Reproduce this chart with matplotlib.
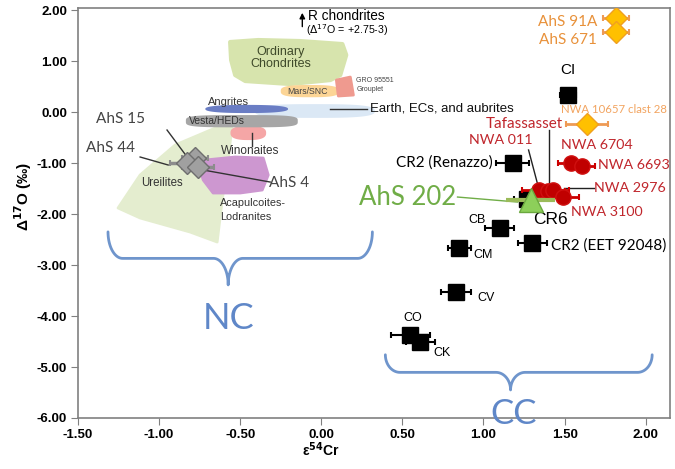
import matplotlib.pyplot as plt
import numpy as np
from matplotlib.patches import Polygon

# ---- data ----
# carbonaceous chondrite groups (black squares)
cc_x = [1.52, 1.18, 1.10, 1.30, 0.85, 0.83, 0.55, 0.61, 1.27]
cc_y = [0.33, -1.00, -2.27, -2.57, -2.67, -3.53, -4.37, -4.51, -1.70]
cc_err = [0.05, 0.10, 0.09, 0.09, 0.07, 0.09, 0.12, 0.09, 0.08]

# ungrouped achondrites, NC side (grey diamonds): AhS 15, AhS 44, AhS 4
nc_x = [-0.78, -0.83, -0.76]
nc_y = [-0.90, -1.00, -1.08]
nc_err = [0.08, 0.10, 0.10]

# orange diamonds: AhS 91A, AhS 671, NWA 10657 clast 28
or_x = [1.815, 1.815, 1.64]
or_y = [1.84, 1.57, -0.24]
or_err = [0.08, 0.08, 0.13]

# CR-like red circles: NWA 6704, NWA 6693, NWA 011, Tafassasset, NWA 2976, NWA 3100
cr_x = [1.54, 1.61, 1.34, 1.40, 1.43, 1.49]
cr_y = [-1.00, -1.06, -1.53, -1.55, -1.53, -1.67]
cr_err = [0.08, 0.08, 0.10, 0.10, 0.10, 0.10]

# AhS 202
g_x, g_y, g_err = 1.29, -1.72, 0.15

# field polygons (data coords)
oc_poly = [(-0.562, 1.373), (-0.389, 1.412), (-0.130, 1.392), (0.130, 1.333), (0.154, 1.118),
           (0.117, 0.725), (0.056, 0.627), (-0.191, 0.549), (-0.469, 0.608), (-0.531, 0.725),
           (-0.556, 1.02)]
ure_poly = [(-0.549, -0.235), (-0.654, -0.314), (-0.901, -0.647), (-1.117, -1.235),
            (-1.253, -1.882), (-1.117, -2.078), (-0.809, -2.353), (-0.642, -2.549),
            (-0.611, -1.725), (-0.574, -0.941)]
aca_poly = [(-0.716, -0.941), (-0.531, -0.882), (-0.358, -0.902), (-0.327, -1.235),
            (-0.364, -1.529), (-0.5, -1.588), (-0.667, -1.588), (-0.728, -1.333),
            (-0.747, -1.137)]
gro_poly = [(0.093, 0.627), (0.179, 0.686), (0.198, 0.333), (0.105, 0.314)]
# blobs: centre x, centre y, width, height
mars_blob = (-0.07, 0.41, 0.36, 0.24)
ang_blob = (-0.46, 0.06, 0.51, 0.16)
earth_blob = (-0.04, 0.02, 0.74, 0.27)
vesta_blob = (-0.49, -0.18, 0.69, 0.24)
win_blob = (-0.45, -0.41, 0.22, 0.28)

# braces: left x, right x, tip x, top y, tip y
nc_brace = (-1.315, 0.315, -0.574, -2.35, -3.39)
cc_brace = (0.395, 2.04, 1.167, -4.76, -5.45)

xticks = [-1.5, -1.0, -0.5, 0.0, 0.5, 1.0, 1.5, 2.0]
yticks = [-6, -5, -4, -3, -2, -1, 0, 1, 2]


def superellipse(cx, cy, w, h, n=4):
    t = np.linspace(0, 2 * np.pi, 120)
    c, s = np.cos(t), np.sin(t)
    x = cx + w / 2 * np.sign(c) * np.abs(c) ** (2 / n)
    y = cy + h / 2 * np.sign(s) * np.abs(s) ** (2 / n)
    return np.column_stack([x, y])


def brace(ax, x0, x1, xm, ytop, ybot, rx=0.09, color='#6f95cc'):
    ymid = (ytop + ybot) / 2
    ry1 = ytop - ymid
    ry2 = ymid - ybot
    pts = []
    a = np.linspace(np.pi, 1.5 * np.pi, 20)
    pts += list(zip(x0 + rx + rx * np.cos(a), ytop + ry1 * np.sin(a)))
    a = np.linspace(0.5 * np.pi, 0, 20)
    pts += list(zip(xm - rx + rx * np.cos(a), ybot + ry2 * np.sin(a)))
    a = np.linspace(np.pi, 0.5 * np.pi, 20)
    pts += list(zip(xm + rx + rx * np.cos(a), ybot + ry2 * np.sin(a)))
    a = np.linspace(1.5 * np.pi, 2 * np.pi, 20)
    pts += list(zip(x1 - rx + rx * np.cos(a), ytop + ry1 * np.sin(a)))
    pts = np.array(pts)
    ax.plot(pts[:, 0], pts[:, 1], color=color, lw=2, solid_capstyle='round', zorder=2)


fig = plt.figure(figsize=(6.75, 4.69), dpi=100)
ax = fig.add_axes([78 / 675, 51 / 469, 592 / 675, 410 / 469])
ax.set_xlim(-1.5, 2.15)
ax.set_ylim(-6, 2.04)

# fields
ax.add_patch(Polygon(ure_poly, closed=True, fc='#e4edcf', ec='#e4edcf', lw=2, joinstyle='round', zorder=1))
ax.add_patch(Polygon(aca_poly, closed=True, fc='#cd97d0', ec='#cd97d0', lw=2, joinstyle='round', zorder=1.1))
ax.add_patch(Polygon(superellipse(*win_blob, n=2.6), fc='#f5a6a6', ec='none', zorder=1.1))
ax.add_patch(Polygon(superellipse(*earth_blob, n=3), fc='#dbe8f5', ec='none', zorder=1.2))
ax.add_patch(Polygon(superellipse(*vesta_blob, n=4), fc='#a6a6a6', ec='none', zorder=1.3))
ax.add_patch(Polygon(superellipse(*ang_blob, n=2.5), fc='#6a7dc4', ec='none', zorder=1.3))
ax.add_patch(Polygon(oc_poly, closed=True, fc='#d7e4ad', ec='#d7e4ad', lw=3, joinstyle='round', zorder=1.2))
ax.add_patch(Polygon(superellipse(*mars_blob, n=3), fc='#fcd596', ec='none', zorder=1.3))
ax.add_patch(Polygon(gro_poly, closed=True, fc='#ef9a8f', ec='#ef9a8f', lw=2, joinstyle='round', zorder=1.3))

cal = 'Lato'
ar = 'Liberation Sans'
ax.text(-0.25, 1.06, 'Ordinary\nChondrites', fontsize=9, family=ar, color='#3f4a2a',
        ha='center', va='center', linespacing=1.1, zorder=3)
ax.text(-0.086, 0.40, 'Mars/SNC', fontsize=6.3, family=ar, color='#444444', ha='center', va='center', zorder=3)
ax.text(0.215, 0.62, 'GRO 95551', fontsize=5, family=ar, color='#444444', ha='left', va='center', zorder=3)
ax.text(0.215, 0.44, 'Grouplet', fontsize=5, family=ar, color='#444444', ha='left', va='center', zorder=3)
ax.text(-0.574, 0.20, 'Angrites', fontsize=8, family=ar, color='#333333', ha='center', va='center', zorder=3)
ax.text(-0.642, -0.18, 'Vesta/HEDs', fontsize=7.5, family=ar, color='#333333', ha='center', va='center', zorder=3)
ax.plot([0.056, 0.284], [0.06, 0.06], color='#333333', lw=1, zorder=3)
ax.text(0.30, 0.06, 'Earth, ECs, and aubrites', fontsize=9.5, family=ar, color='#111111', ha='left', va='center', zorder=3)
ax.plot([-0.426, -0.426], [-0.41, -0.66], color='#333333', lw=1, zorder=3)
ax.text(-0.44, -0.76, 'Winonaites', fontsize=8.5, family=ar, color='#333333', ha='center', va='center', zorder=3)
ax.text(-0.98, -1.39, 'Ureilites', fontsize=8.3, family=ar, color='#333333', ha='center', va='center', zorder=3)
ax.text(-0.623, -1.78, 'Acapulcoites-', fontsize=7.8, family=ar, color='#333333', ha='left', va='center', zorder=3)
ax.text(-0.623, -2.06, 'Lodranites', fontsize=7.8, family=ar, color='#333333', ha='left', va='center', zorder=3)

# R chondrites note
ax.annotate('', xy=(-0.117, 2.0), xytext=(-0.117, 1.62),
            arrowprops=dict(arrowstyle='-|>', color='black', lw=1, mutation_scale=8))
ax.text(-0.08, 1.88, 'R chondrites', fontsize=9.8, family=ar, ha='left', va='center')
ax.text(-0.093, 1.60, '($\\Delta^{17}$O = +2.75-3)', fontsize=7.7, family=ar, ha='left', va='center')

# braces
brace(ax, *nc_brace)
brace(ax, *cc_brace)
ax.text(nc_brace[2], -4.04, 'NC', fontsize=26, family=cal, color='#5f87c8', ha='center', va='center')
ax.text(cc_brace[2] + 0.02, -5.92, 'CC', fontsize=25, family=cal, color='#5f87c8', ha='center', va='center',
        clip_on=False, zorder=6)

# leader lines
ax.plot([-0.951, -0.827], [-0.353, -0.882], color='#333333', lw=1, zorder=3)
ax.plot([-1.117, -0.944], [-0.882, -1.039], color='#333333', lw=1, zorder=3)
ax.plot([-0.728, -0.315], [-1.137, -1.373], color='#333333', lw=1, zorder=3)
ax.plot([1.278, 1.34], [-0.745, -1.49], color='#222222', lw=1, zorder=3)
ax.plot([1.401, 1.401], [-0.35, -1.49], color='#222222', lw=1, zorder=3)
ax.plot([1.494, 1.679], [-1.49, -1.49], color='#222222', lw=1, zorder=3)
ax.plot([0.84, 1.21], [-1.667, -1.765], color='#70ad47', lw=1, zorder=3)

# points
ax.errorbar(cc_x, cc_y, xerr=cc_err, fmt='s', ms=11, mfc='black', mec='black',
            ecolor='black', elinewidth=1.5, capsize=2.5, capthick=1.5, zorder=4)
ax.errorbar(nc_x, nc_y, xerr=nc_err, fmt='D', ms=11, mfc='#a0a0a0', mec='#6e6e6e',
            ecolor='#8c8c8c', elinewidth=2.5, capsize=2.5, capthick=1.5, zorder=4)
ax.errorbar(or_x, or_y, xerr=or_err, fmt='D', ms=11, mfc='#ffc000', mec='#f0a020',
            ecolor='#ee9a55', elinewidth=2, capsize=2.5, capthick=1.5, zorder=4)
ax.errorbar(cr_x, cr_y, xerr=cr_err, fmt='o', ms=11, mfc='#c00000', mec='#d01010',
            ecolor='#cc0000', elinewidth=2, capsize=2.5, capthick=1.5, zorder=4.5)
ax.errorbar([g_x], [g_y], xerr=[g_err], fmt='^', ms=17, mfc='#8dcf5a', mec='#6aa83e',
            ecolor='#9bbb59', elinewidth=3, capsize=0, zorder=5)

# point labels
gry = '#444444'
org = '#e8913a'
red = '#c0262c'
ax.text(-1.241, -0.137, 'AhS 15', fontsize=11, family=cal, color=gry, ha='center', va='center')
ax.text(-1.302, -0.706, 'AhS 44', fontsize=11, family=cal, color=gry, ha='center', va='center')
ax.text(-0.32, -1.39, 'AhS 4', fontsize=11, family=cal, color=gry, ha='left', va='center')
ax.text(1.70, 1.765, 'AhS 91A', fontsize=11, family=cal, color=org, ha='right', va='center')
ax.text(1.70, 1.41, 'AhS 671', fontsize=11, family=cal, color=org, ha='right', va='center')
ax.text(1.475, 0.04, 'NWA 10657 clast 28', fontsize=8.2, family=cal, color='#f2a460', ha='left', va='center')
ax.text(1.52, 0.82, 'CI', fontsize=11, family=ar, color='black', ha='center', va='center')
ax.text(1.49, -0.24, 'Tafassasset', fontsize=11, family=cal, color=red, ha='right', va='center')
ax.text(1.105, -0.55, 'NWA 011', fontsize=10.3, family=cal, color=red, ha='center', va='center')
ax.text(1.70, -0.647, 'NWA 6704', fontsize=10.3, family=cal, color=red, ha='center', va='center')
ax.text(1.704, -1.04, 'NWA 6693', fontsize=10.3, family=cal, color=red, ha='left', va='center')
ax.text(1.68, -1.49, 'NWA 2976', fontsize=10.3, family=cal, color=red, ha='left', va='center')
ax.text(1.537, -1.96, 'NWA 3100', fontsize=10.3, family=cal, color=red, ha='left', va='center')
ax.text(0.83, -1.667, 'AhS 202', fontsize=18.5, family=cal, color='#70ad47', ha='right', va='center')
ax.text(1.06, -1.0, 'CR2 (Renazzo)', fontsize=11, family=cal, color='black', ha='right', va='center')
ax.text(1.414, -2.10, 'CR6', fontsize=12.5, family=ar, color='black', ha='center', va='center')
ax.text(0.963, -2.12, 'CB', fontsize=9, family=ar, color='black', ha='center', va='center')
ax.text(1.414, -2.61, 'CR2 (EET 92048)', fontsize=11, family=cal, color='black', ha='left', va='center')
ax.text(0.938, -2.80, 'CM', fontsize=9, family=ar, color='black', ha='left', va='center')
ax.text(0.963, -3.647, 'CV', fontsize=9, family=ar, color='black', ha='left', va='center')
ax.text(0.562, -4.04, 'CO', fontsize=9, family=ar, color='black', ha='center', va='center')
ax.text(0.747, -4.725, 'CK', fontsize=9, family=ar, color='black', ha='center', va='center')

# axes
ax.set_xticks(xticks)
ax.set_xticklabels(['%.2f' % v for v in xticks])
ax.set_yticks(yticks)
ax.set_yticklabels(['%.2f' % v for v in yticks])
for lab in ax.get_xticklabels() + ax.get_yticklabels():
    lab.set_fontweight('bold')
    lab.set_family(ar)
    lab.set_fontsize(9.5)
ax.tick_params(direction='out', length=5, color='#808080', pad=3)
for s in ax.spines.values():
    s.set_color('#808080')
    s.set_linewidth(1.2)
ax.set_xlabel('ε$^{\\mathbf{54}}$Cr', fontsize=10, fontweight='bold', family=ar)
ax.set_ylabel('Δ$^{\\mathbf{17}}$O (‰)', fontsize=11, fontweight='bold', family=ar)
ax.xaxis.set_label_coords(1.5 / 3.65, -0.055)
ax.yaxis.set_label_coords(-0.075, 0.54)

fig.savefig('out.png', dpi=100)
